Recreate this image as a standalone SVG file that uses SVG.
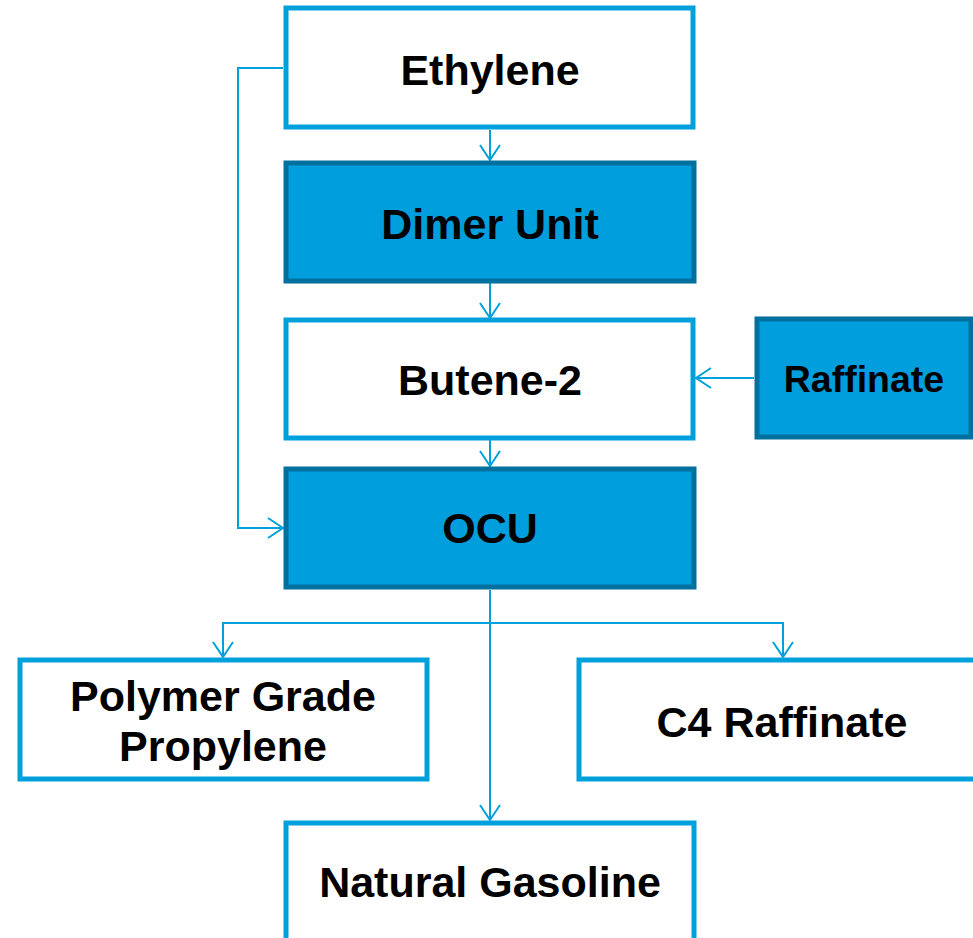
<svg xmlns="http://www.w3.org/2000/svg" width="973" height="938" viewBox="0 0 973 938">
<style>
.w{fill:#ffffff;stroke:#00A0DC;stroke-width:5}
.b{fill:#009EDD;stroke:#00719F;stroke-width:5}
.t{font-family:"Liberation Sans",Arial,sans-serif;font-weight:bold;font-size:43px;fill:#000;text-anchor:middle}
.s{font-size:37.5px}
.c{fill:none;stroke:#00A0DC;stroke-width:2}
</style>
<defs>
<marker id="ah" markerUnits="userSpaceOnUse" markerWidth="18" markerHeight="24" viewBox="0 0 18 24" refX="16" refY="12" orient="auto">
<path d="M1,2 L16,12 L1,22" fill="none" stroke="#00A0DC" stroke-width="2"/>
</marker>
</defs>
<rect width="973" height="938" fill="#fff"/>
<g id="connectors">
<path class="c" d="M490,130 V160" marker-end="url(#ah)"/>
<path class="c" d="M490,283 V318" marker-end="url(#ah)"/>
<path class="c" d="M490,440 V466" marker-end="url(#ah)"/>
<path class="c" d="M754,378 H696" marker-end="url(#ah)"/>
<path class="c" d="M283,68 H238 V528 H283" marker-end="url(#ah)"/>
<path class="c" d="M490,590 V820" marker-end="url(#ah)"/>
<path class="c" d="M490,623 H223 V657" marker-end="url(#ah)"/>
<path class="c" d="M490,623 H783 V657" marker-end="url(#ah)"/>
</g>
<g id="ethylene">
<rect class="w" x="286" y="8" width="407" height="119"/>
<text class="t" x="490" y="85">Ethylene</text>
</g>
<g id="dimer">
<rect class="b" x="286" y="163" width="408" height="118"/>
<text class="t" x="490" y="239">Dimer Unit</text>
</g>
<g id="butene">
<rect class="w" x="286" y="320" width="407" height="118"/>
<text class="t" x="490" y="395">Butene-2</text>
</g>
<g id="raffinate">
<rect class="b" x="757" y="319" width="214" height="118"/>
<text class="t s" x="864" y="392">Raffinate</text>
</g>
<g id="ocu">
<rect class="b" x="286" y="469" width="408" height="118"/>
<text class="t" x="490" y="543">OCU</text>
</g>
<g id="polymer">
<rect class="w" x="20" y="660" width="407" height="119"/>
<text class="t" x="223" y="711">Polymer Grade</text>
<text class="t" x="223" y="761">Propylene</text>
</g>
<g id="c4raffinate">
<rect class="w" x="579" y="660" width="407" height="119"/>
<text class="t" x="782" y="737">C4 Raffinate</text>
</g>
<g id="gasoline">
<rect class="w" x="286" y="823" width="408" height="125"/>
<text class="t" x="490" y="897">Natural Gasoline</text>
</g>
</svg>
